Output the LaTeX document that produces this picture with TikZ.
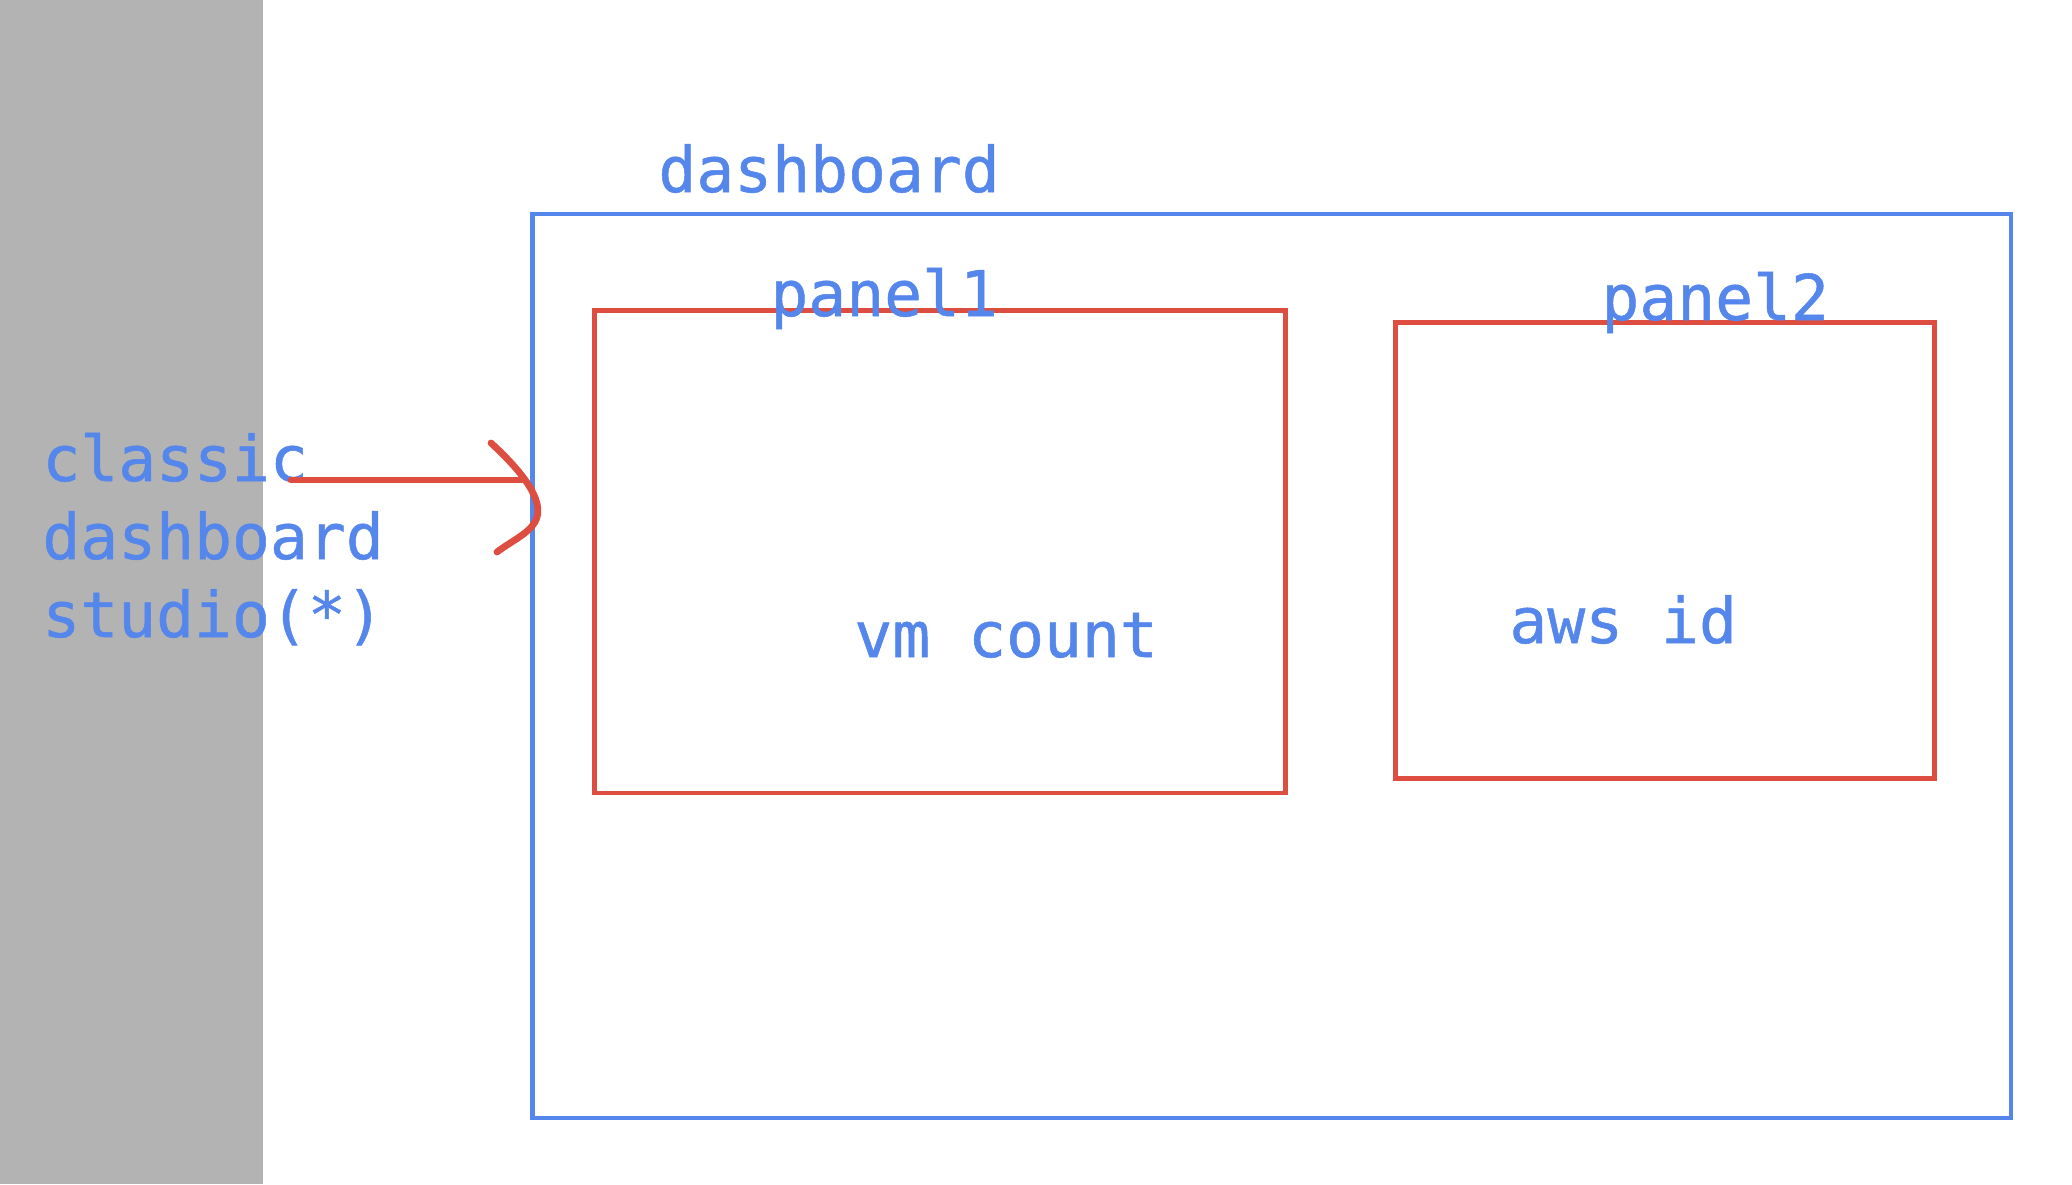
\documentclass[tikz,border=0pt]{standalone}
\usepackage{fontspec}
\setmonofont[FakeBold=0.8]{DejaVu Sans Mono}
\definecolor{dblue}{HTML}{5486EB}
\definecolor{dred}{HTML}{DD4E40}
\definecolor{dgray}{HTML}{B3B3B3}
\tikzset{
  bluebox/.style={draw=dblue, line width=2.1pt, inner sep=0pt, outer sep=0pt},
  redbox/.style={draw=dred, line width=2.4pt, inner sep=0pt, outer sep=0pt},
  lbl/.style={text=dblue, font=\ttfamily\fontsize{31.5}{38}\selectfont, inner sep=0pt, anchor=base west},
  redline/.style={draw=dred, line width=3.4pt, line cap=round, line join=round}
}
\begin{document}
\begin{tikzpicture}[x=0.5pt,y=-0.5pt]
  \useasboundingbox (0,0) rectangle (2072,1184);
  \fill[white] (0,0) rectangle (2072,1184);
  \fill[dgray] (0,0) rectangle (263,1184);
  % boxes
  \node[bluebox, minimum width=739.25pt, minimum height=452pt] (dash) at (1271.75,666) {};
  \node[redbox, minimum width=345.5pt, minimum height=241.25pt] (p1) at (940.2,551.75) {};
  \node[redbox, minimum width=269.5pt, minimum height=228pt] (p2) at (1665,550.4) {};
  % labels
  \node[lbl] (tdash) at (658,192) {dashboard};
  \node[lbl] (tp1) at (770,316) {panel1};
  \node[lbl] (tp2) at (1601,320) {panel2};
  \node[lbl] (tvm) at (854,657) {vm count};
  \node[lbl] (taws) at (1509,643) {aws id};
  \node[lbl] (c1) at (42,481) {classic};
  \node[lbl] (c2) at (42,559) {dashboard};
  \node[lbl] (c3) at (42,637) {studio(*)};
  % hand-drawn arrow
  \coordinate (as) at (291,480);
  \coordinate (ae) at (522,480);
  \coordinate (b1) at (491,443);
  \coordinate (b2) at (535,522);
  \coordinate (b3) at (497,552);
  \draw[redline] (as) -- (ae);
  \draw[redline] (b1) .. controls (515,465) and (548,500) .. (b2)
                      .. controls (528,534) and (510,542) .. (b3);
\end{tikzpicture}
\end{document}
